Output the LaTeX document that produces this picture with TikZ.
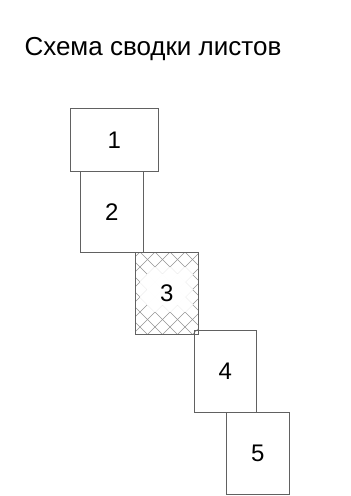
\documentclass[tikz,border=0pt]{standalone}
\usepackage{fontspec}
\setmainfont{Liberation Sans}
\usetikzlibrary{positioning,backgrounds}

\begin{document}
\begin{tikzpicture}[
  x=1pt, y=-1pt,
  sheet/.style={draw=black!62, line width=0.8pt, inner sep=0pt, anchor=north west,
                minimum width=63pt, minimum height=82pt, font=\fontsize{24}{24}\selectfont},
  hatch/.style={draw=black!42, line width=0.6pt}
]
\useasboundingbox (0,0) rectangle (351,496);
\node[anchor=base west, font=\fontsize{26}{26}\selectfont] (title) at (21,55) {Схема сводки листов};

\node[sheet, minimum width=88pt, minimum height=63pt] (s1) at (70,108) {1};
\node[sheet, minimum height=81pt] (s2) at (80,171) {2};
\node[sheet] (s3) at (135,252) {3};
\node[sheet, minimum width=62pt] (s4) at (194,330) {4};
\node[sheet] (s5) at (226,412) {5};

% cross hatch of sheet 3, kept clear round its number
\begin{scope}[on background layer]
  \fill[white] (0,0) rectangle (351,496);
  \begin{scope}
    \clip (s3.north west) rectangle (s3.south east);
    \foreach \k in {-6,...,4}
      \draw[hatch] ({-112+15*\k+240},240) -- ({-112+15*\k+345},345);
    \foreach \k in {-1,...,9}
      \draw[hatch] ({392+15*\k-240},240) -- ({392+15*\k-345},345);
    \foreach \cx/\cy in {155/274.5, 170/274.5, 185/274.5,
                         147.5/282, 162.5/282, 177.5/282,
                         155/289.5, 170/289.5, 185/289.5,
                         147.5/297, 162.5/297, 177.5/297,
                         155/304.5, 170/304.5, 185/304.5}
      \fill[white, draw=white, line width=0.4pt] (\cx-7.5,\cy) -- (\cx,\cy-7.5) -- (\cx+7.5,\cy) -- (\cx,\cy+7.5) -- cycle;
  \end{scope}
\end{scope}
\end{tikzpicture}
\end{document}
